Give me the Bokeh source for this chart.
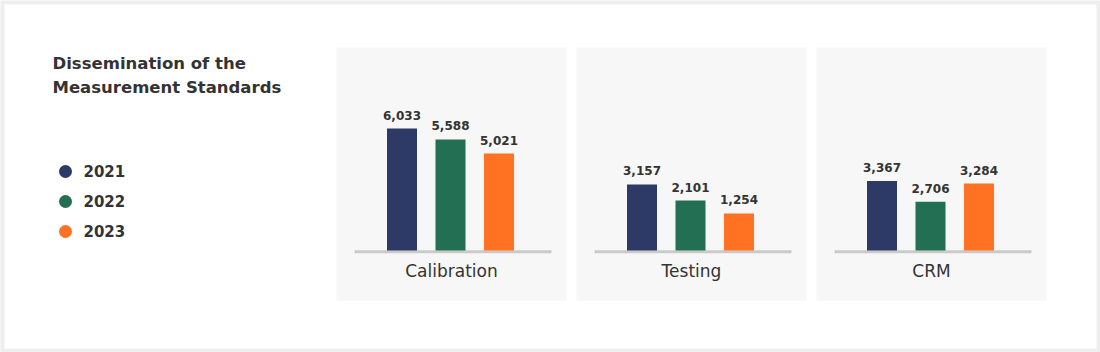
from bokeh.plotting import figure
from bokeh.models import Range1d, ColumnDataSource
from bokeh.embed import file_html
from bokeh.resources import INLINE
from bokeh.core.properties import value

# ---- data ----
title_lines = ["Dissemination of the", "Measurement Standards"]
years = ["2021", "2022", "2023"]
categories = ["Calibration", "Testing", "CRM"]
calibration = [6033, 5588, 5021]
testing = [3157, 2101, 1254]
crm = [3367, 2706, 3284]
series_by_cat = [calibration, testing, crm]
colors = ["#2d3a66", "#226f54", "#fe7222"]

FONT = "DejaVu Sans"
W, H = 1100, 352
ADJ = -6  # baseline correction

p = figure(width=W, height=H, x_range=Range1d(0, W), y_range=Range1d(H, 0),
           x_axis_type=None, y_axis_type=None, toolbar_location=None,
           output_backend="svg", min_border=0)
p.background_fill_color = "#eeeeee"
p.border_fill_color = "#eeeeee"
p.outline_line_color = None
p.grid.visible = False

# white card
p.quad(left=4, right=W - 4, top=4, bottom=H - 4, fill_color="white", line_color=None)

# title
for i, t in enumerate(title_lines):
    p.text(x=52, y=68.5 + ADJ + i * 24, text=[t], text_font=value(FONT), text_font_style="bold",
           text_font_size="16.5px", text_color="#333333", text_baseline="alphabetic")

# legend
for i, (yr, c) in enumerate(zip(years, colors)):
    yy = 171 + i * 30
    p.scatter(x=[65], y=[yy], size=13, fill_color=c, line_color=None)
    p.text(x=83, y=yy - 1, text=[yr], text_font=value(FONT), text_font_style="bold",
           text_font_size="15px", text_color="#333333", text_baseline="middle")

# panels
panel_left = [336, 576, 816]
panel_w = 230
panel_top, panel_bottom = 47, 300
base_px = 250
bar_off, bar_gap, bar_w = 65.5, 48.5, 30
# per-panel value scale: (value at baseline, px per unit)
scales = [(1094, 0.0247), (-1174, 0.01524), (1164, 0.03155)]

for k, (cat, vals) in enumerate(zip(categories, series_by_cat)):
    L = panel_left[k]
    p.quad(left=L, right=L + panel_w, top=panel_top, bottom=panel_bottom,
           fill_color="#f7f7f7", line_color=None)
    p.segment(x0=L + 18, x1=L + 215, y0=base_px + 1.2, y1=base_px + 1.2,
              line_color="#cacaca", line_width=3)
    v0, s = scales[k]
    rname = f"r{k}"
    p.extra_y_ranges[rname] = Range1d(v0 - (H - base_px) / s, v0 + base_px / s)
    xs = [L + bar_off + i * bar_gap for i in range(len(vals))]
    src = ColumnDataSource(dict(x=xs, top=vals, bottom=[v0] * len(vals), color=colors,
                                lab=[f"{v:,}" for v in vals],
                                ly=[v + (7.5 - ADJ) / s for v in vals]))
    p.vbar(x="x", width=bar_w, top="top", bottom="bottom", fill_color="color",
           line_color=None, source=src, y_range_name=rname)
    p.text(x="x", y="ly", text="lab", source=src, y_range_name=rname,
           text_font=value(FONT), text_font_style="bold", text_font_size="12px",
           text_color="#333333", text_align="center", text_baseline="alphabetic")
    p.text(x=[L + panel_w / 2], y=[276.5 + ADJ], text=[cat], text_font=value(FONT),
           text_font_size="17px", text_color="#333333", text_align="center",
           text_baseline="alphabetic")

open("out.html", "w").write(file_html(p, INLINE))
